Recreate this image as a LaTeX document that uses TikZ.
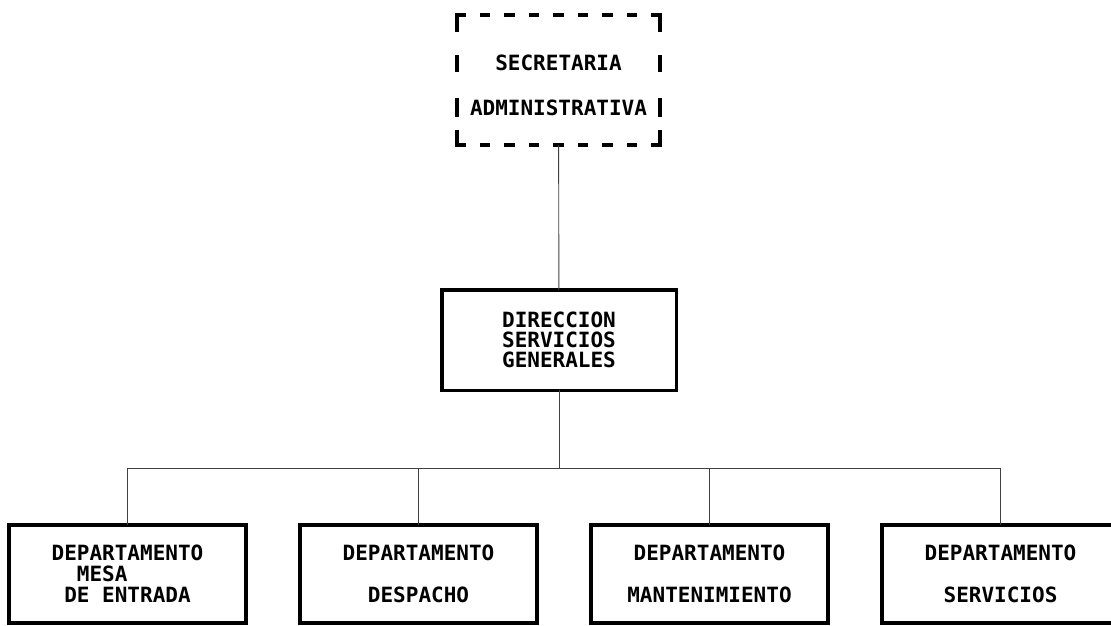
\documentclass[tikz,border=0pt]{standalone}
\usepackage{fontspec}
\newfontfamily\plotfont{DejaVu Sans Mono}
\usetikzlibrary{positioning}

\tikzset{
  box/.style={draw, line width=3.5pt, inner sep=0pt, outer sep=0pt, align=center,
    font=\plotfont\bfseries\fontsize{21}{21}\selectfont},
  dept/.style={box, minimum width=237pt, minimum height=98pt},
  link/.style={black!75, line width=0.9pt},
  secline/.style={line width=3.5pt, line cap=rect},
}

\begin{document}
\begin{tikzpicture}[x=1pt,y=1pt]
        \useasboundingbox (0,0) rectangle (1111,625);
        % secretaria (dashed)
        \node[box, draw=none, minimum width=203pt, minimum height=120pt] (sec) at (558.5,540) {SECRETARIA\\[24pt]ADMINISTRATIVA};
        \coordinate (secnw) at ([yshift=10pt]sec.north west);
        \coordinate (secne) at ([yshift=10pt]sec.north east);
        \draw[secline, dash pattern=on 7pt off 17.5pt] (secnw) -- (secne);
        \draw[secline, dash pattern=on 7pt off 17.5pt] (sec.south west) -- (sec.south east);
        \draw[secline, dash pattern=on 15pt off 27pt on 13pt off 30pt on 15pt off 17pt on 13pt] (secnw) -- (sec.south west);
        \draw[secline, dash pattern=on 15pt off 27pt on 13pt off 30pt on 15pt off 17pt on 13pt] (secne) -- (sec.south east);
        \node[box, minimum width=234.5pt, minimum height=100.5pt] (dir) at (559,285) {DIRECCION\\[-1pt]SERVICIOS\\[-1pt]GENERALES};
        \node[dept, align=left] (mesa) at (127.5,51) {DEPARTAMENTO\\~~MESA\\~DE ENTRADA};
        \node[dept, right=54pt of mesa] (despacho) {DEPARTAMENTO\\[21pt]DESPACHO};
        \node[dept, right=54pt of despacho] (mant) {DEPARTAMENTO\\[21pt]MANTENIMIENTO};
        \node[dept, right=54pt of mant] (serv) {DEPARTAMENTO\\[21pt]SERVICIOS};
        \coordinate (bus) at (559,157);
        \draw[link] (sec) -- (dir);
        \draw[link] (dir) -- (bus);
        \draw[link] (bus) -| (mesa);
        \draw[link] (bus) -| (despacho);
        \draw[link] (bus) -| (mant);
        \draw[link] (bus) -| (serv);
    \end{tikzpicture}
\end{document}
